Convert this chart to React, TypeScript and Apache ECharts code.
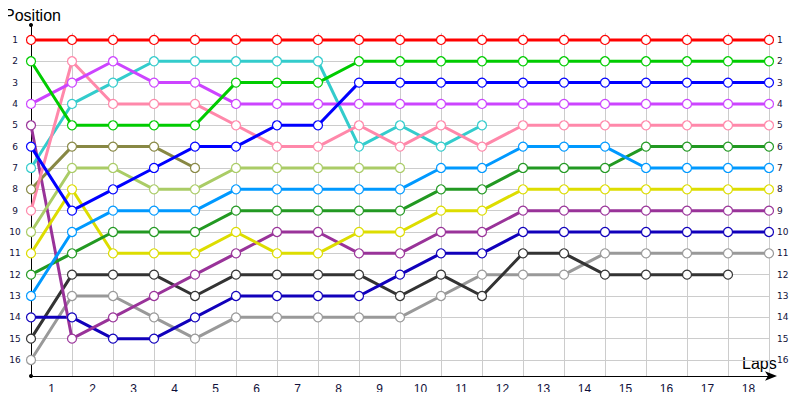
import React, { useEffect, useRef } from "react";
import * as echarts from "echarts";

const lapPoints = [0, 1, 2, 3, 4, 5, 6, 7, 8, 9, 10, 11, 12, 13, 14, 15, 16, 17, 18];
const lapLabels = ["1", "2", "3", "4", "5", "6", "7", "8", "9", "10", "11", "12", "13", "14", "15", "16", "17", "18"];
const positionTicks = [1, 2, 3, 4, 5, 6, 7, 8, 9, 10, 11, 12, 13, 14, 15, 16];

const red = [1, 1, 1, 1, 1, 1, 1, 1, 1, 1, 1, 1, 1, 1, 1, 1, 1, 1, 1];
const green = [2, 5, 5, 5, 5, 3, 3, 3, 2, 2, 2, 2, 2, 2, 2, 2, 2, 2, 2];
const blue = [6, 9, 8, 7, 6, 6, 5, 5, 3, 3, 3, 3, 3, 3, 3, 3, 3, 3, 3];
const violet = [4, 3, 2, 3, 3, 4, 4, 4, 4, 4, 4, 4, 4, 4, 4, 4, 4, 4, 4];
const pink = [9, 2, 4, 4, 4, 5, 6, 6, 5, 6, 5, 6, 5, 5, 5, 5, 5, 5, 5];
const cyan = [7, 4, 3, 2, 2, 2, 2, 2, 6, 5, 6, 5];
const olive = [8, 6, 6, 6, 7];
const lightGreen = [10, 7, 7, 8, 8, 7, 7, 7, 7, 7];
const skyBlue = [13, 10, 9, 9, 9, 8, 8, 8, 8, 8, 7, 7, 6, 6, 6, 7, 7, 7, 7];
const forestGreen = [12, 11, 10, 10, 10, 9, 9, 9, 9, 9, 8, 8, 7, 7, 7, 6, 6, 6, 6];
const yellow = [11, 8, 11, 11, 11, 10, 11, 11, 10, 10, 9, 9, 8, 8, 8, 8, 8, 8, 8];
const magenta = [5, 15, 14, 13, 12, 11, 10, 10, 11, 11, 10, 10, 9, 9, 9, 9, 9, 9, 9];
const darkBlue = [14, 14, 15, 15, 14, 13, 13, 13, 13, 12, 11, 11, 10, 10, 10, 10, 10, 10, 10];
const darkGray = [15, 12, 12, 12, 13, 12, 12, 12, 12, 13, 12, 13, 11, 11, 12, 12, 12, 12];
const gray = [16, 13, 13, 14, 15, 14, 14, 14, 14, 14, 13, 12, 12, 12, 11, 11, 11, 11, 11];

const drivers: [string, string, number[]][] = [
  ["gray", "#999999", gray],
  ["darkGray", "#333333", darkGray],
  ["darkBlue", "#1100bb", darkBlue],
  ["magenta", "#993399", magenta],
  ["yellow", "#dddd00", yellow],
  ["forestGreen", "#229922", forestGreen],
  ["skyBlue", "#0099ff", skyBlue],
  ["lightGreen", "#aacc66", lightGreen],
  ["olive", "#888844", olive],
  ["cyan", "#33cccc", cyan],
  ["pink", "#ff88aa", pink],
  ["violet", "#cc44ff", violet],
  ["blue", "#0000ff", blue],
  ["green", "#00cc00", green],
  ["red", "#ff0000", red],
];

const Y_MIN = 0.3;
const Y_MAX = 16.75;
const GRID_TOP_VALUE = 0.67;
const labelColor = "#10103a";

export default function App() {
  const ref = useRef<HTMLDivElement>(null);
  useEffect(() => {
    if (!ref.current) return;
    const chart = echarts.init(ref.current, undefined, { renderer: "svg" });
    const helper = {
      type: "line",
      data: [],
      silent: true,
      z: 0,
      markLine: {
        z: 0,
        silent: true,
        animation: false,
        symbol: ["none", "none"],
        label: { show: false },
        emphasis: { disabled: true },
        lineStyle: { color: "#cccccc", type: "solid", width: 1 },
        data: [
          ...positionTicks.map((p) => ({ yAxis: p })),
          ...lapPoints.map((x) => [{ coord: [x, GRID_TOP_VALUE] }, { coord: [x, Y_MAX] }]),
        ],
      },
    };
    const series = drivers.map(([name, color, pos]) => ({
      name,
      type: "line",
      z: 10,
      data: pos.map((p, i) => [lapPoints[i], p]),
      symbol: "circle",
      symbolSize: 9,
      showSymbol: true,
      lineStyle: { color, width: 3 },
      itemStyle: { color: "#ffffff", borderColor: color, borderWidth: 1.2 },
    }));
    const yCommon = {
      type: "value",
      inverse: true,
      min: Y_MIN,
      max: Y_MAX,
      splitLine: { show: false },
      axisTick: { show: false },
    };
    chart.setOption({
      animation: false,
      grid: { left: 31, right: 31, top: 25, bottom: 24, containLabel: false },
      xAxis: [
        {
          type: "value",
          min: 0,
          max: 18,
          interval: 1,
          axisLine: {
            show: true,
            lineStyle: { color: "#000000", width: 1 },
            symbol: ["none", "arrow"],
            symbolSize: [7, 12],
            symbolOffset: [0, 8],
          },
          axisTick: { show: false },
          axisLabel: { show: false },
          splitLine: { show: false },
        },
        {
          type: "category",
          position: "bottom",
          data: lapLabels,
          boundaryGap: true,
          axisLine: { show: false },
          axisTick: { show: false },
          splitLine: { show: false },
          axisLabel: {
            color: labelColor,
            fontSize: 12,
            fontFamily: "Liberation Sans",
            margin: 7,
          },
        },
      ],
      yAxis: [
        {
          ...yCommon,
          position: "left",
          axisLine: {
            show: true,
            lineStyle: { color: "#000000", width: 1 },
            symbol: ["circle", "circle"],
            symbolSize: [4, 4],
          },
          axisLabel: {
            customValues: positionTicks,
            color: labelColor,
            fontSize: 9,
            fontFamily: "DejaVu Sans",
            align: "center",
            margin: 16,
          },
        },
        {
          ...yCommon,
          position: "right",
          axisLine: { show: false },
          axisLabel: {
            customValues: positionTicks,
            color: labelColor,
            fontSize: 9,
            fontFamily: "DejaVu Sans",
            align: "left",
            margin: 8,
          },
        },
      ],
      graphic: [
        {
          type: "text",
          left: 4,
          top: 7,
          style: { text: "Position", fontSize: 16, fontFamily: "Liberation Sans", fill: "#000000" },
        },
        {
          type: "text",
          left: 742,
          top: 355,
          style: { text: "Laps", fontSize: 16, fontFamily: "Liberation Sans", fill: "#000000" },
        },
      ],
      series: [helper, ...series],
    });
    return () => chart.dispose();
  }, []);
  return <div ref={ref} style={{ width: 800, height: 400, margin: -8 }} />;
}
